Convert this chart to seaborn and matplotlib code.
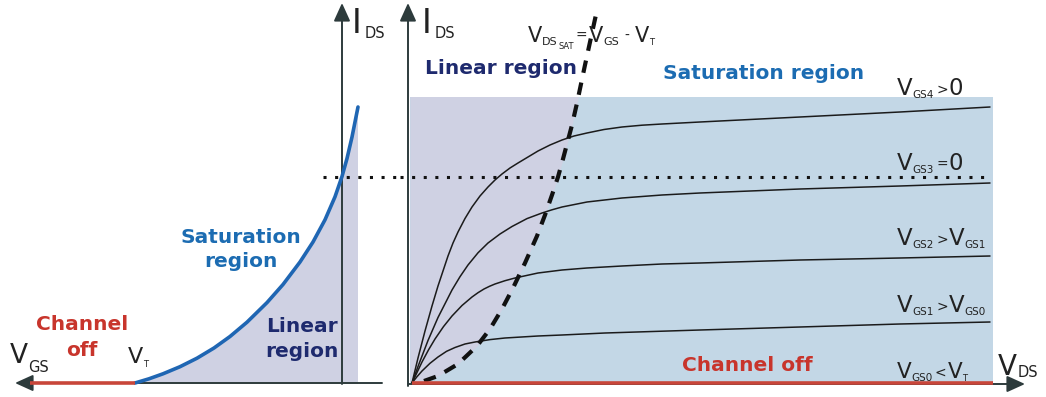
import numpy as np
import pandas as pd
import matplotlib
matplotlib.use("Agg")
import matplotlib.pyplot as plt
import seaborn as sns
from matplotlib import transforms as mtransforms
from matplotlib.patches import Rectangle

# ---------------- data (arbitrary units) ----------------
# transfer characteristic I_DS(V_GS), left panel
transfer_vgs = [-2.07, -1.93, -1.79, -1.62, -1.45, -1.28, -1.12, -0.95, -0.75,
                -0.59, -0.42, -0.29, -0.17, -0.07, 0.00, 0.05, 0.10, 0.16]
transfer_ids = [0.00, 0.042, 0.092, 0.163, 0.248, 0.35, 0.465, 0.608, 0.804,
                0.985, 1.21, 1.41, 1.632, 1.862, 2.065, 2.245, 2.46, 2.76]
vt = -2.07
off_vgs = [-3.12, -2.07]
off_ids = [0.0, 0.0]
idss = 2.06                    # I_DS at V_GS = 0 (dotted level)

# output characteristics I_DS(V_DS), right panel
vds_gs4 = [0, 0.06, 0.13, 0.20, 0.26, 0.36, 0.41, 0.46, 0.53, 0.60, 0.68, 0.76,
           0.83, 0.90, 0.98, 1.06, 1.26, 1.38, 1.50, 1.62, 1.75, 1.92, 2.10,
           2.30, 2.50, 2.88, 3.88, 4.88, 5.78]
ids_gs4 = [0, 0.25, 0.52, 0.77, 0.97, 1.27, 1.40, 1.51, 1.645, 1.76, 1.87, 1.96,
           2.03, 2.09, 2.15, 2.20, 2.32, 2.38, 2.43, 2.47, 2.50, 2.535, 2.56,
           2.578, 2.59, 2.61, 2.66, 2.71, 2.76]
vds_gs3 = [0, 0.06, 0.16, 0.26, 0.40, 0.48, 0.56, 0.66, 0.76, 0.88, 1.00, 1.15,
           1.30, 1.40, 1.50, 1.75, 2.10, 2.50, 2.88, 3.88, 4.88, 5.78]
ids_gs3 = [0, 0.165, 0.425, 0.655, 0.93, 1.063, 1.18, 1.302, 1.40, 1.49, 1.565,
           1.644, 1.70, 1.732, 1.76, 1.81, 1.85, 1.88, 1.90, 1.94, 1.97, 2.00]
vds_gs2 = [0, 0.10, 0.165, 0.23, 0.315, 0.40, 0.50, 0.60, 0.66, 0.72, 0.775,
           0.83, 0.93, 1.03, 1.26, 1.50, 1.75, 2.10, 2.50, 2.88, 3.88, 4.88, 5.78]
ids_gs2 = [0, 0.21, 0.331, 0.44, 0.564, 0.67, 0.775, 0.86, 0.903, 0.94, 0.967,
           0.99, 1.023, 1.05, 1.10, 1.13, 1.15, 1.17, 1.19, 1.20, 1.23, 1.25, 1.27]
vds_gs1 = [0, 0.05, 0.10, 0.18, 0.26, 0.345, 0.43, 0.53, 0.63, 0.78, 0.93, 1.26,
           1.50, 1.93, 2.88, 3.88, 4.88, 5.78]
ids_gs1 = [0, 0.063, 0.12, 0.197, 0.26, 0.3165, 0.355, 0.39, 0.41, 0.434, 0.45,
           0.47, 0.48, 0.50, 0.53, 0.56, 0.59, 0.61]
vds_gs0 = [0, 5.81]
ids_gs0 = [0.0, 0.0]

# saturation locus V_DSsat = V_GS - V_T
sat_vds = [0.12, 0.26, 0.46, 0.65, 0.78, 0.90, 1.01, 1.13, 1.25, 1.33, 1.40,
           1.46, 1.51, 1.60, 1.65, 1.73, 1.85]
sat_ids = [0.02, 0.07, 0.19, 0.37, 0.54, 0.74, 0.95, 1.20, 1.47, 1.68, 1.88,
           2.06, 2.24, 2.58, 2.80, 3.18, 3.73]
region_top = 2.86
region_right = 5.81

# ---------------- style ----------------
sns.set_theme(style="white")
plt.rcParams["font.family"] = ["DejaVu Sans"]

BLUE = "#1f66b3"
SAT_TXT = "#1c6cb2"
NAVY = "#1e2a6e"
RED = "#c8463a"
RED_TXT = "#c8352c"
LAV = "#cfd1e3"
LBLUE = "#c3d7e6"
AXC = "#505556"
HEADC = "#2d3b3c"
TXT = "#222222"

W, H = 1046, 397
fig = plt.figure(figsize=(W / 100, H / 100), dpi=100)
fig.patch.set_facecolor("white")

axL = fig.add_axes([0, 0, 400 / W, 1])
axR = fig.add_axes([400 / W, 0, 646 / W, 1])
ylim = (-0.14, 3.83)

renderer = fig.canvas.get_renderer()


def compose(ax, x, y, parts, color=TXT, weight="normal"):
    dx = 0.0
    for txt, size, dy, gap in parts:
        tr = mtransforms.offset_copy(ax.transData, fig=fig, x=dx, y=dy, units="dots")
        t = ax.text(x, y, txt, fontsize=size, transform=tr, ha="left",
                    va="baseline", color=color, fontweight=weight, zorder=8)
        dx += t.get_window_extent(renderer=renderer).width + gap


def arrow(ax, tail, tip):
    ax.annotate("", xy=tip, xytext=tail,
                arrowprops=dict(arrowstyle="-|>,head_length=0.55,head_width=0.25",
                                mutation_scale=20, lw=1.4, color=AXC,
                                fc=HEADC, ec=HEADC, shrinkA=0, shrinkB=0),
                zorder=4)


# ---------------- left panel: transfer characteristic ----------------
clipL = Rectangle((vt, 0), 0.15 - vt, 5, transform=axL.transData)
fillL = axL.fill_between(transfer_vgs, 0, transfer_ids, color=LAV, lw=0, zorder=1)
fillL.set_clip_path(clipL)

axL.plot([-0.19, 0.58], [idss, idss], color="#111111", lw=2.2,
         ls=(0, (1, 2.8)), dash_capstyle="butt", zorder=3)

arrow(axL, (0.40, 0.0), (-3.27, 0.0))
arrow(axL, (0.0, -0.01), (0.0, 3.80))

sns.lineplot(x=transfer_vgs, y=transfer_ids, ax=axL, color=BLUE, lw=2.6,
             sort=False, estimator=None, zorder=5)
axL.plot(off_vgs, off_ids, color=RED, lw=2.6, solid_capstyle="butt", zorder=5)

compose(axL, 0.10, 3.50, [("I", 24, 0, 3), ("DS", 10.5, -5, 0)])
compose(axL, -3.32, 0.20, [("V", 19, 0, 0), ("GS", 10.5, -9, 0)])
compose(axL, -2.14, 0.20, [("V", 16, 0, 0), ("T", 6, -4, 0)])

lkw = dict(fontsize=14.5, fontweight="bold", ha="center", va="baseline", zorder=8)
axL.text(-1.01, 1.40, "Saturation", color=SAT_TXT, **lkw)
axL.text(-1.01, 1.16, "region", color=SAT_TXT, **lkw)
axL.text(-0.40, 0.51, "Linear", color=NAVY, **lkw)
axL.text(-0.40, 0.26, "region", color=NAVY, **lkw)
axL.text(-2.60, 0.53, "Channel", color=RED_TXT, **lkw)
axL.text(-2.60, 0.27, "off", color=RED_TXT, **lkw)

# ---------------- right panel: output characteristics ----------------
axR.add_patch(Rectangle((-0.02, 0), region_right + 0.02, region_top,
                        facecolor=LBLUE, edgecolor="none", zorder=0))
clipR = Rectangle((-0.02, 0), region_right + 0.02, region_top, transform=axR.transData)
lav = axR.fill_betweenx([0.0] + sat_ids, -0.02, [0.12] + sat_vds, color=LAV,
                        lw=0, zorder=1)
lav.set_clip_path(clipR)

df = pd.concat([
    pd.DataFrame({"vds": vds_gs4, "ids": ids_gs4, "curve": "VGS4"}),
    pd.DataFrame({"vds": vds_gs3, "ids": ids_gs3, "curve": "VGS3"}),
    pd.DataFrame({"vds": vds_gs2, "ids": ids_gs2, "curve": "VGS2"}),
    pd.DataFrame({"vds": vds_gs1, "ids": ids_gs1, "curve": "VGS1"}),
], ignore_index=True)
sns.lineplot(data=df, x="vds", y="ids", units="curve", estimator=None,
             sort=False, color="#1b1b1b", lw=1.1, ax=axR, legend=False, zorder=3)

axR.plot([-0.12, 5.78], [idss, idss], color="#111111", lw=2.2,
         ls=(0, (1, 2.8)), dash_capstyle="butt", zorder=3)
axR.plot(sat_vds, sat_ids, color="#111111", lw=3.0, ls=(0, (3.0, 2.4)),
         dash_capstyle="butt", zorder=4)

arrow(axR, (-0.04, -0.03), (-0.04, 3.80))
arrow(axR, (-0.04, -0.01), (6.13, -0.01))
axR.plot(vds_gs0, ids_gs0, color=RED, lw=2.6, solid_capstyle="butt", zorder=5)

compose(axR, 0.10, 3.50, [("I", 24, 0, 3), ("DS", 10.5, -5, 0)])
compose(axR, 1.16, 3.41, [("V", 15, 0, 0), ("DS", 8, -3, 1), ("SAT", 6, -7, 1),
                          ("=", 10, 2, 2), ("V", 15, 0, 0), ("GS", 8, -3, 5),
                          ("-", 10, 2, 6), ("V", 15, 0, 0), ("T", 6, -3, 0)])
axR.text(0.13, 3.09, "Linear region", color=NAVY, fontsize=14.5,
         fontweight="bold", ha="left", va="baseline", zorder=8)
axR.text(2.51, 3.04, "Saturation region", color=SAT_TXT, fontsize=14.5,
         fontweight="bold", ha="left", va="baseline", zorder=8)
axR.text(2.70, 0.12, "Channel off", color=RED_TXT, fontsize=14.5,
         fontweight="bold", ha="left", va="baseline", zorder=8)

V, SUB = 16.5, 7.5
compose(axR, 4.85, 2.88, [("V", V, 0, 0), ("GS4", SUB, -3, 2), (">", 10, 1, 1), ("0", V, 0, 0)])
compose(axR, 4.85, 2.13, [("V", V, 0, 0), ("GS3", SUB, -3, 2), ("=", 10, 1, 1), ("0", V, 0, 0)])
compose(axR, 4.85, 1.38, [("V", V, 0, 0), ("GS2", SUB, -3, 2), (">", 10, 1, 1),
                          ("V", V, 0, 0), ("GS1", SUB, -3, 0)])
compose(axR, 4.85, 0.71, [("V", V, 0, 0), ("GS1", SUB, -3, 2), (">", 10, 1, 1),
                          ("V", V, 0, 0), ("GS0", SUB, -3, 0)])
compose(axR, 4.85, 0.05, [("V", 15.5, 0, 0), ("GS0", SUB, -3, 2), ("<", 10, 1, 1),
                          ("V", 15.5, 0, 0), ("T", 6, -3, 0)])
compose(axR, 5.86, 0.08, [("V", 20, 0, 1), ("DS", 10.5, -2, 0)])

axL.set_xlim(-3.42, 0.58)
axR.set_xlim(-0.12, 6.34)
for ax in (axL, axR):
    ax.set_ylim(*ylim)
    ax.set_axis_off()

fig.savefig("out.png", dpi=100, facecolor="white")
